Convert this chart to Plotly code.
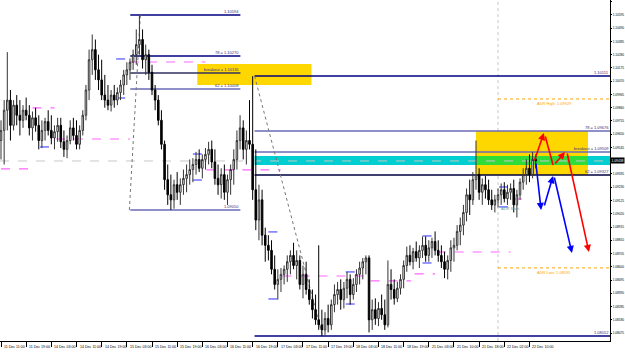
import plotly.graph_objects as go

# ---------------- data ----------------
OPEN = [1.0960,1.0968,1.0984,1.0992,1.0972,1.0988,1.0980,1.0976,1.0984,1.0980,
        1.0970,1.0978,1.0972,1.0960,1.0968,1.0975,1.0968,1.0962,1.0967,1.0972,
        1.0959,1.0953,1.0960,1.0970,1.0964,1.0957,1.0968,1.0980,1.1000,1.1024,
        1.1032,1.1016,1.1008,1.0996,1.0992,1.0988,1.0996,1.0992,1.0998,1.1004,
        1.1012,1.1016,1.1022,1.1028,1.1036,1.1040,1.1024,1.1028,1.1014,1.1000,
        1.0992,1.0976,1.0957,1.0929,1.0917,1.0913,1.0925,1.0919,1.0925,1.0930,
        1.0933,1.0937,1.0941,1.0945,1.0938,1.0945,1.0949,1.0953,1.0943,1.0930,
        1.0925,1.0933,1.0919,1.0929,1.0937,1.0945,1.0960,1.0970,1.0953,1.0960,
        1.0957,1.0921,1.0897,1.0913,1.0885,1.0877,1.0873,1.0858,1.0846,1.0850,
        1.0854,1.0858,1.0864,1.0869,1.0861,1.0865,1.0846,1.0854,1.0842,1.0834,
        1.0826,1.0818,1.0814,1.0810,1.0819,1.0814,1.0830,1.0838,1.0842,1.0834,
        1.0843,1.0850,1.0838,1.0846,1.0854,1.0859,1.0864,1.0867,1.0818,1.0826,
        1.0819,1.0827,1.0822,1.0814,1.0846,1.0842,1.0835,1.0843,1.0850,1.0861,
        1.0869,1.0864,1.0872,1.0867,1.0873,1.0877,1.0869,1.0875,1.0880,1.0873,
        1.0869,1.0864,1.0858,1.0865,1.0875,1.0877,1.0888,1.0893,1.0903,1.0917,
        1.0913,1.0929,1.0933,1.0919,1.0925,1.0921,1.0913,1.0909,1.0913,1.0917,
        1.0921,1.0914,1.0919,1.0922,1.0909,1.0917,1.0927,1.0933,1.0938,1.0933,
        1.0945]
HIGH = [1.0976,1.0992,1.1030,1.1000,1.0992,1.0996,1.0992,1.0988,1.0994,1.0988,
        1.0983,1.0986,1.0980,1.0976,1.0978,1.0984,1.0980,1.0972,1.0978,1.0978,
        1.0968,1.0964,1.0976,1.0978,1.0976,1.0972,1.0984,1.1004,1.1032,1.1044,
        1.1040,1.1028,1.1024,1.1012,1.1004,1.1000,1.1004,1.1002,1.1008,1.1016,
        1.1022,1.1025,1.1032,1.1048,1.1059,1.1048,1.1036,1.1032,1.1020,1.1004,
        1.0996,1.0984,1.0960,1.0941,1.0933,1.0929,1.0935,1.0930,1.0937,1.0941,
        1.0945,1.0946,1.0951,1.0953,1.0949,1.0954,1.0959,1.0960,1.0953,1.0941,
        1.0938,1.0941,1.0933,1.0941,1.0953,1.0968,1.0980,1.0976,1.0968,1.0992,
        1.1011,1.0953,1.0925,1.0921,1.0891,1.0885,1.0881,1.0869,1.0858,1.0859,
        1.0861,1.0869,1.0873,1.0879,1.0873,1.0869,1.0861,1.0864,1.0850,1.0842,
        1.0838,1.0877,1.0826,1.0824,1.0830,1.0834,1.0846,1.0848,1.0850,1.0848,
        1.0856,1.0854,1.0851,1.0858,1.0864,1.0867,1.0869,1.0869,1.0834,1.0835,
        1.0832,1.0838,1.0834,1.0865,1.0858,1.0850,1.0848,1.0854,1.0865,1.0876,
        1.0877,1.0875,1.0880,1.0877,1.0884,1.0884,1.0881,1.0883,1.0888,1.0881,
        1.0877,1.0872,1.0869,1.0881,1.0883,1.0893,1.0899,1.0909,1.0922,1.0929,
        1.0935,1.0960,1.0938,1.0930,1.0932,1.0929,1.0921,1.0917,1.0922,1.0926,
        1.0927,1.0925,1.0926,1.0929,1.0921,1.0930,1.0938,1.0945,1.0949,1.0951,
        1.0949]
LOW = [1.0945,1.0941,1.0968,1.0960,1.0968,1.0972,1.0964,1.0970,1.0976,1.0964,
       1.0960,1.0967,1.0953,1.0954,1.0960,1.0964,1.0957,1.0953,1.0959,1.0954,
       1.0947,1.0946,1.0957,1.0960,1.0953,1.0953,1.0964,1.0976,1.0992,1.1012,
       1.1008,1.1000,1.0992,1.0986,1.0984,1.0983,1.0986,1.0988,1.0992,1.0996,
       1.1004,1.1008,1.1016,1.1020,1.1028,1.1017,1.1012,1.1008,1.0996,1.0984,
       1.0972,1.0953,1.0921,1.0909,1.0905,1.0906,1.0913,1.0909,1.0917,1.0919,
       1.0925,1.0927,1.0933,1.0935,1.0930,1.0937,1.0941,1.0938,1.0925,1.0917,
       1.0914,1.0913,1.0909,1.0917,1.0925,1.0937,1.0953,1.0945,1.0941,1.0953,
       1.0913,1.0889,1.0881,1.0877,1.0864,1.0865,1.0854,1.0842,1.0834,1.0840,
       1.0846,1.0848,1.0854,1.0858,1.0850,1.0842,1.0835,1.0838,1.0830,1.0819,
       1.0814,1.0810,1.0805,1.0806,1.0808,1.0810,1.0824,1.0830,1.0826,1.0827,
       1.0835,1.0830,1.0834,1.0840,1.0846,1.0850,1.0854,1.0808,1.0810,1.0814,
       1.0813,1.0818,1.0810,1.0812,1.0834,1.0830,1.0832,1.0838,1.0843,1.0856,
       1.0861,1.0858,1.0864,1.0859,1.0867,1.0864,1.0864,1.0867,1.0869,1.0864,
       1.0859,1.0851,1.0850,1.0856,1.0864,1.0873,1.0877,1.0885,1.0896,1.0901,
       1.0909,1.0921,1.0913,1.0909,1.0914,1.0909,1.0905,1.0903,1.0907,1.0909,
       1.0911,1.0909,1.0913,1.0903,1.0899,1.0913,1.0921,1.0925,1.0927,1.0930,
       1.0938]
CLOSE = [1.0968,1.0984,1.0992,1.0972,1.0988,1.0980,1.0976,1.0984,1.0980,1.0970,
         1.0978,1.0972,1.0960,1.0968,1.0975,1.0968,1.0962,1.0967,1.0972,1.0959,
         1.0953,1.0960,1.0970,1.0964,1.0957,1.0968,1.0980,1.1000,1.1024,1.1032,
         1.1016,1.1008,1.0996,1.0992,1.0988,1.0996,1.0992,1.0998,1.1004,1.1012,
         1.1016,1.1022,1.1028,1.1036,1.1040,1.1024,1.1028,1.1014,1.1000,1.0992,
         1.0976,1.0957,1.0929,1.0917,1.0913,1.0925,1.0919,1.0925,1.0930,1.0933,
         1.0937,1.0941,1.0945,1.0938,1.0945,1.0949,1.0953,1.0943,1.0930,1.0925,
         1.0933,1.0919,1.0929,1.0937,1.0945,1.0960,1.0970,1.0953,1.0960,1.0957,
         1.0921,1.0897,1.0913,1.0885,1.0877,1.0873,1.0858,1.0846,1.0850,1.0854,
         1.0858,1.0864,1.0869,1.0861,1.0865,1.0846,1.0854,1.0842,1.0834,1.0826,
         1.0818,1.0814,1.0810,1.0819,1.0814,1.0830,1.0838,1.0842,1.0834,1.0843,
         1.0850,1.0838,1.0846,1.0854,1.0859,1.0864,1.0867,1.0818,1.0826,1.0819,
         1.0827,1.0822,1.0814,1.0846,1.0842,1.0835,1.0843,1.0850,1.0861,1.0869,
         1.0864,1.0872,1.0867,1.0873,1.0877,1.0869,1.0875,1.0880,1.0873,1.0869,
         1.0864,1.0858,1.0865,1.0875,1.0877,1.0888,1.0893,1.0903,1.0917,1.0913,
         1.0929,1.0933,1.0919,1.0925,1.0921,1.0913,1.0909,1.0913,1.0917,1.0921,
         1.0914,1.0919,1.0922,1.0909,1.0917,1.0927,1.0933,1.0938,1.0933,1.0945,
         1.0944]
BARS = list(range(len(CLOSE)))

TIME_TICK_BARS = [0, 8, 16, 24, 32, 40, 48, 56, 64, 72, 80, 88, 96, 104, 112,
                  120, 128, 136, 144, 152, 160, 168]
TIME_LABELS = ["11 Dec 11:00", "11 Dec 19:00", "14 Dec 03:00", "14 Dec 11:00",
               "14 Dec 19:00", "15 Dec 03:00", "15 Dec 11:00", "15 Dec 19:00",
               "16 Dec 03:00", "16 Dec 11:00", "16 Dec 19:00", "17 Dec 03:00",
               "17 Dec 11:00", "17 Dec 19:00", "18 Dec 03:00", "18 Dec 11:00",
               "18 Dec 19:00", "21 Dec 03:00", "21 Dec 10:00", "21 Dec 18:00",
               "22 Dec 02:00", "22 Dec 10:00"]
PRICE_TICKS = [1.10700, 1.10595, 1.10490, 1.10385, 1.10280, 1.10175, 1.10070,
               1.09965, 1.09860, 1.09755, 1.09650, 1.09545, 1.09440, 1.09335,
               1.09230, 1.09125, 1.09020, 1.08915, 1.08810, 1.08705, 1.08600,
               1.08495, 1.08390, 1.08285, 1.08180, 1.08075]

X_MIN, X_MAX = -0.32, 193.6
Y_MIN, Y_MAX = 1.08012, 1.10713
BID = 1.09438

# Fibonacci set 1 (bar start, bar end), levels
FIB1_BARS = (41.1, 76.1)
FIB1_NAMES = ["", "78 = ", "breakout = ", "62 = ", ""]
FIB1_LEVELS = [1.10594, 1.10270, 1.10135, 1.10008, 1.09050]
FIB1_COLORS = ["#000080", "#000080", "#303060", "#6a6ab8", "#6a6ab8"]
FIB1_BOX = (62.4, 98.7, 1.10040, 1.10206)

# Fibonacci set 2
FIB2_START = 80.6
FIB2_NAMES = ["", "78 = ", "breakout = ", "62 = ", ""]
FIB2_LEVELS = [1.10111, 1.09676, 1.09509, 1.09327, 1.08052]
FIB2_COLORS = ["#000080", "#6a6ab8", "#6a6ab8", "#000040", "#000080"]
FIB2_BOX = (151.0, 186.6, 1.09327, 1.09676)
CYAN_BAND = (80.6, 1.09406, 1.09477)

ADR_START_BAR = 158.0
ADR_HIGH = 1.09929
ADR_LOW = 1.08591

TREND1 = (40.8, 1.09050, 44.3, 1.10594)
TREND2 = (80.6, 1.10111, 102.2, 1.08052)

PINK_SEGMENTS = [(41, 65, 1.10222), (17.5, 41, 1.09612), (0, 9.2, 1.09375),
                 (65.3, 88.9, 1.09367), (89.5, 117.5, 1.08527),
                 (117.5, 130.3, 1.08488), (131.5, 138, 1.08543),
                 (138.5, 162, 1.08717), (162.7, 166.6, 1.09137),
                 (10, 17, 1.09858)]
BLUE_SEGMENTS = [(36.6, 41, 1.10246), (36.6, 41, 1.09937), (12.4, 17.5, 1.09549),
                 (61, 65.3, 1.09493), (61, 65.3, 1.09287), (85, 89.5, 1.08876),
                 (85, 89.5, 1.08345), (109.6, 113.7, 1.08559),
                 (109.6, 113.7, 1.08305), (134, 138.5, 1.08844),
                 (134, 138.5, 1.08630), (158.3, 162.7, 1.09232),
                 (158.3, 162.7, 1.09074)]

# forecast arrows: (bar0, price0, bar1, price1, has_head)
RED_PATH = [(169.4, 1.09430, 172.6, 1.09660, True),
            (172.9, 1.09644, 175.5, 1.09406, False),
            (175.8, 1.09406, 179.3, 1.09509, True),
            (179.9, 1.09509, 186.9, 1.08717, True)]
BLUE_PATH = [(170.0, 1.09430, 171.7, 1.09050, True),
             (172.6, 1.09074, 175.5, 1.09319, True),
             (175.8, 1.09319, 181.5, 1.08709, True)]

FONT = "Liberation Sans"
FS = 4

# ---------------- figure ----------------
fig = go.Figure()
fig.add_trace(go.Candlestick(
    x=BARS, open=OPEN, high=HIGH, low=LOW, close=CLOSE,
    increasing=dict(line=dict(color="#333333", width=1), fillcolor="#ffffff"),
    decreasing=dict(line=dict(color="#000000", width=1), fillcolor="#000000"),
    whiskerwidth=0, showlegend=False, hoverinfo="skip"))

shapes = []
ann = []

# rectangles (background)
shapes.append(dict(type="rect", xref="x", yref="y", layer="below",
                   x0=FIB1_BOX[0], x1=FIB1_BOX[1], y0=FIB1_BOX[2], y1=FIB1_BOX[3],
                   fillcolor="#FFD700", line=dict(width=0)))
shapes.append(dict(type="rect", xref="x", yref="y", layer="below",
                   x0=CYAN_BAND[0], x1=X_MAX, y0=CYAN_BAND[1], y1=CYAN_BAND[2],
                   fillcolor="#00CED1", line=dict(width=0)))
shapes.append(dict(type="rect", xref="x", yref="y", layer="below",
                   x0=FIB2_BOX[0], x1=FIB2_BOX[1], y0=FIB2_BOX[2], y1=FIB2_BOX[3],
                   fillcolor="#FFD700", line=dict(width=0)))
shapes.append(dict(type="rect", xref="x", yref="y", layer="below",
                   x0=FIB2_BOX[0], x1=FIB2_BOX[1], y0=CYAN_BAND[1], y1=CYAN_BAND[2],
                   fillcolor="#2EDC3A", line=dict(width=0)))

# bid line and day separator
shapes.append(dict(type="line", xref="x", yref="y", layer="below",
                   x0=X_MIN, x1=X_MAX, y0=BID, y1=BID,
                   line=dict(color="#c8c8c8", width=1, dash="dash")))
shapes.append(dict(type="line", xref="x", yref="paper", layer="below",
                   x0=ADR_START_BAR, x1=ADR_START_BAR, y0=0, y1=1,
                   line=dict(color="#c8c8c8", width=1, dash="dot")))

# ADR lines
for lvl in (ADR_HIGH, ADR_LOW):
    shapes.append(dict(type="line", xref="x", yref="y", layer="below",
                       x0=ADR_START_BAR, x1=X_MAX, y0=lvl, y1=lvl,
                       line=dict(color="#FFA500", width=1, dash="dot")))
ann.append(dict(x=169.7, y=ADR_HIGH, xref="x", yref="y", text=f"ADR High: {ADR_HIGH:.5f}",
                showarrow=False, xanchor="left", yanchor="top",
                font=dict(size=FS, color="#FFA500", family=FONT)))
ann.append(dict(x=169.7, y=ADR_LOW, xref="x", yref="y", text=f"ADR Low: {ADR_LOW:.5f}",
                showarrow=False, xanchor="left", yanchor="top",
                font=dict(size=FS, color="#FFA500", family=FONT)))
ann.append(dict(x=158.3, y=1.09058, xref="x", yref="y", text="ADR Start",
                showarrow=False, xanchor="left", yanchor="middle",
                font=dict(size=FS, color="#5F9EA0", family=FONT)))

# pink / blue dashes
for x0, x1, p in PINK_SEGMENTS:
    shapes.append(dict(type="line", xref="x", yref="y", layer="below",
                       x0=x0, x1=x1, y0=p, y1=p,
                       line=dict(color="#FF66FF", width=1.2, dash="dash")))
for x0, x1, p in BLUE_SEGMENTS:
    shapes.append(dict(type="line", xref="x", yref="y", layer="below",
                       x0=x0, x1=x1, y0=p, y1=p,
                       line=dict(color="#5050FF", width=1.2, dash="dash")))

# fib set 1
for name, lvl, col in zip(FIB1_NAMES, FIB1_LEVELS, FIB1_COLORS):
    shapes.append(dict(type="line", xref="x", yref="y", layer="below",
                       x0=FIB1_BARS[0], x1=FIB1_BARS[1], y0=lvl, y1=lvl,
                       line=dict(color=col, width=1.5)))
    ann.append(dict(x=FIB1_BARS[1], y=lvl, xref="x", yref="y", text=f"{name}{lvl:.5f}",
                    showarrow=False, xanchor="right", yanchor="bottom", borderpad=0,
                    font=dict(size=FS, color="#303080", family=FONT)))

# fib set 2
for name, lvl, col in zip(FIB2_NAMES, FIB2_LEVELS, FIB2_COLORS):
    shapes.append(dict(type="line", xref="x", yref="y", layer="below",
                       x0=FIB2_START, x1=X_MAX, y0=lvl, y1=lvl,
                       line=dict(color=col, width=1.5)))
    ann.append(dict(x=X_MAX, y=lvl, xref="x", yref="y", text=f"{name}{lvl:.5f}",
                    showarrow=False, xanchor="right", yanchor="bottom", borderpad=0,
                    font=dict(size=FS, color="#303080", family=FONT)))

# dotted trend lines
for t in (TREND1, TREND2):
    shapes.append(dict(type="line", xref="x", yref="y", layer="below",
                       x0=t[0], y0=t[1], x1=t[2], y1=t[3],
                       line=dict(color="#777777", width=1, dash="dot")))

# forecast arrows
for path, col in ((RED_PATH, "#FF0000"), (BLUE_PATH, "#0000FF")):
    for b0, p0, b1, p1, head in path:
        ann.append(dict(x=b1, y=p1, ax=b0, ay=p0, xref="x", yref="y",
                        axref="x", ayref="y", text="", showarrow=True,
                        arrowhead=2 if head else 0, arrowsize=0.9,
                        arrowwidth=1.6, arrowcolor=col, standoff=0))

# time labels (left-aligned like the platform)
for b, lab in zip(TIME_TICK_BARS, TIME_LABELS):
    ann.append(dict(x=b, y=0, xref="x", yref="paper", text=lab, showarrow=False,
                    xanchor="left", yanchor="top", yshift=-2, xshift=1,
                    font=dict(size=3.6, color="#000000", family=FONT)))

# current price label (covers the axis label at that level, as on the platform)
ann.append(dict(x=1, y=BID, xref="paper", yref="y", text=f"{BID:.5f}", showarrow=False,
                xanchor="left", yanchor="middle", bgcolor="#000000", borderpad=0.5,
                font=dict(size=3.3, color="#ffffff", family=FONT)))

tick_text = ["" if abs(v - BID) < 0.0002 else f"{v:.5f}" for v in PRICE_TICKS]

fig.update_layout(
    width=625, height=353,
    margin=dict(l=0, r=15, t=0, b=12),
    paper_bgcolor="#ffffff", plot_bgcolor="#ffffff",
    shapes=shapes, annotations=ann, showlegend=False,
    xaxis=dict(range=[X_MIN, X_MAX], rangeslider=dict(visible=False),
               showgrid=False, zeroline=False, showline=True, linecolor="#000000",
               linewidth=1, ticks="outside", ticklen=5, tickcolor="#000000",
               tickvals=TIME_TICK_BARS, showticklabels=False, fixedrange=True),
    yaxis=dict(range=[Y_MIN, Y_MAX], side="right", showgrid=False, zeroline=False,
               showline=True, linecolor="#000000", linewidth=1, ticks="outside",
               ticklen=1, tickcolor="#000000", tickvals=PRICE_TICKS,
               ticktext=tick_text,
               tickfont=dict(size=3.2, color="#000000", family=FONT),
               automargin=False, fixedrange=True),
)

fig.write_html("out.html")
